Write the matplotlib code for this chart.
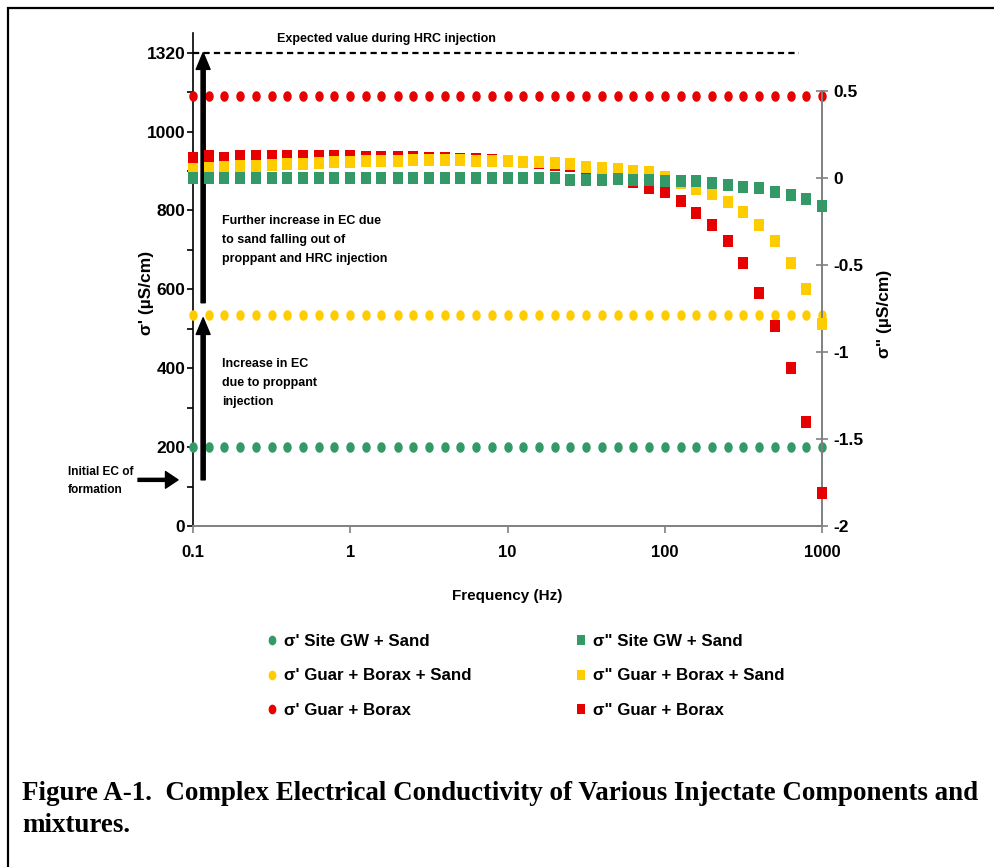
"""Figure A-1: complex electrical conductivity of injectate components."""

import math

import matplotlib
matplotlib.use("Agg")  # non-interactive backend
import matplotlib.pyplot as plt
from matplotlib.lines import Line2D
from matplotlib.patches import Rectangle
from matplotlib.ticker import NullLocator

# ─── Palette ─────────────────────────────────────────────────────────────────
GREEN = "#339966"
YELLOW = "#FFCC00"
RED = "#E60000"
GRAY = "#808080"
BLACK = "#000000"

W_PX, H_PX = 994, 867

plt.rcParams["font.family"] = ["Liberation Sans", "DejaVu Sans"]
plt.rcParams["font.weight"] = "bold"

# ─── Data ────────────────────────────────────────────────────────────────────
freq_hz = [
    0.1, 0.126, 0.158, 0.2, 0.251, 0.316, 0.398, 0.501, 0.631, 0.794,
    1, 1.26, 1.58, 2, 2.51, 3.16, 3.98, 5.01, 6.31, 7.94,
    10, 12.6, 15.8, 20, 25.1, 31.6, 39.8, 50.1, 63.1, 79.4,
    100, 126, 158, 200, 251, 316, 398, 501, 631, 794, 1000,
]

# real part sigma' (uS/cm), left axis
s1_site_sand = [
    200, 200, 200, 200, 200, 200, 200, 200, 200, 200,
    200, 200, 200, 200, 200, 200, 200, 200, 200, 200,
    200, 200, 200, 200, 200, 200, 200, 200, 200, 200,
    200, 200, 200, 200, 200, 200, 200, 200, 200, 200, 200,
]
s1_guar_borax_sand = [
    535, 535, 535, 535, 535, 535, 535, 535, 535, 535,
    535, 535, 535, 535, 535, 535, 535, 535, 535, 535,
    535, 535, 535, 535, 535, 535, 535, 535, 535, 535,
    535, 535, 535, 535, 535, 535, 535, 535, 535, 535, 535,
]
s1_guar_borax = [
    1090, 1090, 1090, 1090, 1090, 1090, 1090, 1090, 1090, 1090,
    1090, 1090, 1090, 1090, 1090, 1090, 1090, 1090, 1090, 1090,
    1090, 1090, 1090, 1090, 1090, 1090, 1090, 1090, 1090, 1090,
    1090, 1090, 1090, 1090, 1090, 1090, 1090, 1090, 1090, 1090, 1090,
]

# imaginary part sigma'' (uS/cm), right axis
s2_site_sand = [
    0.0, 0.0, 0.0, 0.0, 0.0, 0.0, 0.0, 0.0, 0.0, 0.0,
    0.0, 0.0, 0.0, 0.0, 0.0, 0.0, 0.0, 0.0, 0.0, 0.0,
    0.0, 0.0, 0.0, 0.0, -0.01, -0.01, -0.01, -0.006, -0.01, -0.01,
    -0.015, -0.02, -0.02, -0.03, -0.04, -0.05, -0.06, -0.08, -0.10, -0.12, -0.16,
]
s2_guar_borax_sand = [
    0.05, 0.06, 0.065, 0.07, 0.07, 0.075, 0.08, 0.08, 0.085, 0.09,
    0.09, 0.095, 0.10, 0.10, 0.105, 0.105, 0.105, 0.105, 0.10, 0.10,
    0.095, 0.09, 0.09, 0.085, 0.08, 0.065, 0.06, 0.052, 0.04, 0.033,
    0.006, -0.03, -0.065, -0.09, -0.14, -0.195, -0.27, -0.36, -0.49, -0.64, -0.84,
]
s2_guar_borax = [
    0.115, 0.125, 0.115, 0.125, 0.125, 0.125, 0.125, 0.125, 0.125, 0.125,
    0.125, 0.12, 0.12, 0.12, 0.12, 0.115, 0.115, 0.11, 0.11, 0.105,
    0.095, 0.09, 0.085, 0.075, 0.07, 0.055, 0.04, 0.015, -0.025, -0.06,
    -0.08, -0.13, -0.20, -0.27, -0.36, -0.49, -0.66, -0.85, -1.09, -1.40, -1.81,
]

x_ticks = [0.1, 1, 10, 100, 1000]
x_tick_labels = ["0.1", "1", "10", "100", "1000"]
left_ticks = [0, 100, 200, 300, 400, 500, 600, 700, 800, 900, 1000, 1100, 1200]
left_tick_labels = ["0", "", "200", "", "400", "", "600", "", "800", "", "1000", "", "1320"]
right_ticks = [-2, -1.5, -1, -0.5, 0, 0.5]
right_tick_labels = ["-2", "-1.5", "-1", "-0.5", "0", "0.5"]

legend_left = ["σ' Site GW + Sand", "σ' Guar + Borax + Sand", "σ' Guar + Borax"]
legend_right = ['σ" Site GW + Sand', 'σ" Guar + Borax + Sand', 'σ" Guar + Borax']
series_colors = [GREEN, YELLOW, RED]

# slightly tall markers, as in the scanned figure
OVAL = [(0.8 * math.cos(2 * math.pi * k / 24), math.sin(2 * math.pi * k / 24)) for k in range(24)]
TALL_RECT = [(-0.8, -1), (0.8, -1), (0.8, 1), (-0.8, 1)]


def fx(px):
    return px / W_PX


def fy(py):
    return 1 - py / H_PX


fig = plt.figure(figsize=(W_PX / 100, H_PX / 100), dpi=100)
fig.patch.set_facecolor("white")

# page frame (only the top/left edges fall inside the crop)
fig.patches.append(Rectangle((fx(8), -0.1), 1.2, fy(8) + 0.1, transform=fig.transFigure,
                             fill=False, edgecolor=BLACK, linewidth=1.6))

ax = fig.add_axes([fx(193), fy(526), fx(822) - fx(193), fy(33) - fy(526)])
ax2 = ax.twinx()

ax.set_xscale("log")
ax.set_xlim(0.1, 1000)
ax.set_ylim(0, 1250)
ax2.set_ylim(-2, 0.5 + 58 / 174)

circ = dict(marker=OVAL, linestyle="none", markersize=7.6, markeredgewidth=0, clip_on=False)
square = dict(marker=TALL_RECT, linestyle="none", markersize=8.4, markeredgewidth=0, clip_on=False)

ax.plot(freq_hz, s1_guar_borax, color=RED, zorder=3, **circ)
ax.plot(freq_hz, s1_guar_borax_sand, color=YELLOW, zorder=3, **circ)
ax.plot(freq_hz, s1_site_sand, color=GREEN, zorder=3, **circ)

ax2.plot(freq_hz, s2_guar_borax, color=RED, zorder=3, **square)
ax2.plot(freq_hz, s2_guar_borax_sand, color=YELLOW, zorder=4, **square)
ax2.plot(freq_hz, s2_site_sand, color=GREEN, zorder=5, **square)

# spines
for side in ("top", "right"):
    ax.spines[side].set_visible(False)
for side in ("top", "left", "bottom"):
    ax2.spines[side].set_visible(False)
ax.spines["left"].set_color(BLACK)
ax.spines["left"].set_linewidth(1.2)
ax.spines["bottom"].set_color(GRAY)
ax.spines["bottom"].set_linewidth(1.4)
ax2.spines["right"].set_color(GRAY)
ax2.spines["right"].set_linewidth(1.4)
ax2.spines["right"].set_bounds(-2, 0.5)

# ticks
ax.set_xticks(x_ticks)
ax.set_xticklabels(x_tick_labels)
ax.xaxis.set_minor_locator(NullLocator())
ax.tick_params(axis="x", direction="out", length=5, width=1.2, color=GRAY, pad=9, labelsize=12)
ax.set_yticks(left_ticks)
ax.set_yticklabels(left_tick_labels)
ax.tick_params(axis="y", direction="out", length=4, width=1.2, color=BLACK, pad=1.5, labelsize=12.5)
ax2.set_yticks(right_ticks)
ax2.set_yticklabels(right_tick_labels)
ax2.tick_params(axis="y", direction="inout", length=9, width=1.2, color=GRAY, pad=4, labelsize=12.5)

# expected HRC level
ax.hlines(1200, 0.1, 710, colors=BLACK, linewidth=1.6, linestyles=(0, (2.8, 1.9)), zorder=2)
ax.text(0.1 * 10 ** ((277 - 193) / 157.25), 1200 + 36, "Expected value during HRC injection",
        fontsize=9, ha="left", va="center")

# arrows
arrow_kw = dict(facecolor=BLACK, edgecolor=BLACK, width=3, headwidth=10, headlength=12, shrink=0)
ax.annotate("", xy=(0.116, 1200), xytext=(0.116, 566), arrowprops=arrow_kw, zorder=4)
ax.annotate("", xy=(0.116, 528), xytext=(0.116, 117), arrowprops=arrow_kw, zorder=4)
ax.annotate("", xy=((178 - 193) / 629, 117), xycoords=ax.get_yaxis_transform(),
            xytext=((138 - 193) / 629, 117), textcoords=ax.get_yaxis_transform(),
            arrowprops=dict(facecolor=BLACK, edgecolor=BLACK, width=2.2, headwidth=12,
                            headlength=9, shrink=0), annotation_clip=False)

note = dict(fontsize=9, ha="left", va="center", linespacing=1.75)
fig.text(fx(222), fy(240), "Further increase in EC due\nto sand falling out of\nproppant and HRC injection", **note)
fig.text(fx(222), fy(383), "Increase in EC\ndue to proppant\ninjection", **note)
fig.text(fx(68), fy(481), "Initial EC of\nformation", fontsize=8.6, ha="left", va="center", linespacing=1.75)

# axis titles
fig.text(fx(507), fy(596), "Frequency (Hz)", fontsize=11, ha="center", va="center")
fig.text(fx(146), fy(293), "σ' (µS/cm)", fontsize=12.5, rotation=90, ha="center", va="center")
fig.text(fx(884), fy(314), 'σ" (µS/cm)', fontsize=12.5, rotation=90, ha="center", va="center")


# legend, two stacked columns
def _legend(labels, marker, x_px):
    handles = [Line2D([], [], marker=marker, linestyle="none", color=c, markersize=7,
                      markeredgewidth=0) for c in series_colors]
    leg = fig.legend(handles, labels, loc="center left", bbox_to_anchor=(fx(x_px), fy(676)),
                     frameon=False, fontsize=12.2, handlelength=0.8, handletextpad=0.3,
                     labelspacing=1.17, borderpad=0, borderaxespad=0)
    return leg


_legend(legend_left, OVAL, 265)
_legend(legend_right, TALL_RECT, 574)

# caption
cap = dict(family="Liberation Serif", fontsize=19.45, fontweight="bold", ha="left", va="center")
fig.text(fx(22), fy(793), "Figure A-1.  Complex Electrical Conductivity of Various Injectate Components and", **cap)
fig.text(fx(22), fy(826), "mixtures.", **cap)

fig.savefig("out.png", dpi=100, facecolor="white")
